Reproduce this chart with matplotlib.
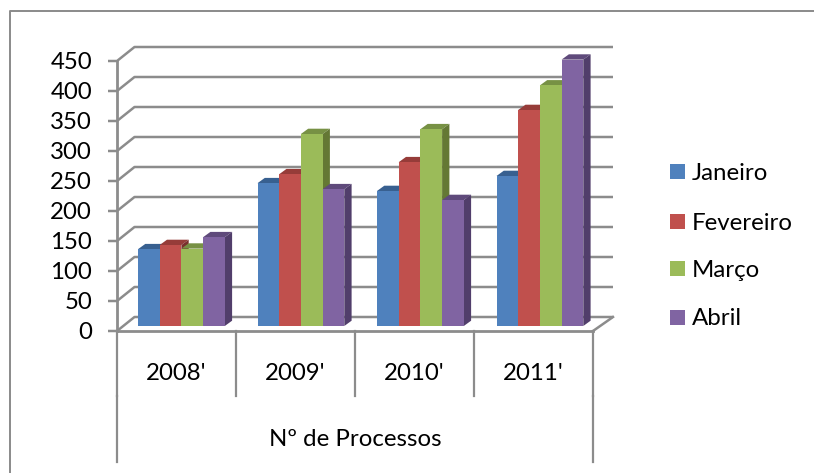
import matplotlib
matplotlib.use("Agg")
import matplotlib.pyplot as plt
from matplotlib.lines import Line2D
from matplotlib.patches import Polygon, Rectangle

plt.rcParams['font.family'] = ['Lato', 'DejaVu Sans']

years = ["2008'", "2009'", "2010'", "2011'"]
meses = ["Janeiro", "Fevereiro", "Março", "Abril"]
janeiro = [128, 238, 225, 250]
fevereiro = [135, 253, 273, 360]
marco = [129, 320, 328, 401]
abril = [148, 228, 210, 444]
series = [janeiro, fevereiro, marco, abril]
ticks = list(range(0, 451, 50))

front = ["#4F81BD", "#C0504D", "#9BBB59", "#8064A2"]
top = ["#386090", "#963C39", "#779144", "#5F4A7B"]
side = ["#2F4F78", "#7A302E", "#647834", "#513E6B"]
grey = "#8C8C8C"
fs = 17.3

W, H = 814, 473
fig = plt.figure(figsize=(W / 100, H / 100), dpi=100)

# outer frame, only left and top are inside the crop
fig.add_artist(Line2D([9.5 / W, 9.5 / W, 1], [0, 1 - 10.7 / H, 1 - 10.7 / H], transform=fig.transFigure,
                      color="#8A8A8A", lw=1.4))

# front wall goes from x=117..593 px, y=331..61 px
ax = fig.add_axes([117 / W, 1 - 331 / H, 476 / W, 270 / H])
ax.set_xlim(0, 4)
ax.set_ylim(0, 450)
ax.axis("off")

xu = 4 / 476.0    # one pixel in x units
yu = 450 / 270.0  # one pixel in y units

# gridlines with the slanted bit on the left wall
ddx, ddy = 17.5 * xu, 14 * yu
for t in ticks:
    ax.plot([-9 * xu, 0, ddx, 4 + 20 * xu], [t, t, t + ddy, t + ddy], color=grey, lw=1.8,
            clip_on=False, solid_capstyle="butt", zorder=1)
    ax.text(-25 * xu, t - 1.5 * yu, str(t), ha="right", va="center", fontsize=fs, color="black")

# floor right edge, left axis, front edge
ax.plot([4, 4 + 20 * xu], [0, ddy], color=grey, lw=1.8, clip_on=False, zorder=1)
ax.plot([0, 0], [0, 450], color=grey, lw=2.0, clip_on=False, zorder=2)
ax.plot([0, 4], [0, 0], color=grey, lw=2.0, clip_on=False, zorder=2)

# bars
bw = 21.7 * xu
base = 5 * yu
bdx, bdy = 7.3 * xu, 5.3 * yu
starts = [(138 - 117) * xu + i * 119.5 * xu for i in range(4)]
for i in range(4):
    for j in range(4):
        x0 = starts[i] + j * bw
        v = series[j][i]
        y1 = v + base
        z = 3 + j
        ax.add_patch(Polygon([(x0, y1), (x0 + bdx, y1 + bdy), (x0 + bw + bdx, y1 + bdy), (x0 + bw, y1)],
                             fc=top[j], ec="none", clip_on=False, zorder=z))
        ax.add_patch(Polygon([(x0 + bw, base), (x0 + bw + bdx, base + bdy), (x0 + bw + bdx, y1 + bdy), (x0 + bw, y1)],
                             fc=side[j], ec="none", clip_on=False, zorder=z))
        ax.bar(x0, v, width=bw, bottom=base, align="edge", color=front[j], ec="none",
               clip_on=False, zorder=z + 0.5)

# category table under the plot
row1 = -65 * yu
row2 = -131 * yu
for i in range(5):
    ax.plot([i, i], [0, row1], color=grey, lw=1.6, clip_on=False)
for i in [0, 4]:
    ax.plot([i, i], [row1, row2], color=grey, lw=1.6, clip_on=False)
for i, y in enumerate(years):
    ax.text(i + 0.5, -42 * yu, y, ha="center", va="center", fontsize=fs)
ax.text(2, -108 * yu, "Nº de Processos", ha="center", va="center", fontsize=fs)

# legend
legend_y = [172, 221.5, 269, 317]
for j, m in enumerate(meses):
    yy = legend_y[j]
    fig.add_artist(Rectangle((670 / W, 1 - (yy + 7.5) / H), 15 / W, 15 / H, transform=fig.transFigure,
                             fc=front[j], ec="none"))
    fig.text(692 / W, 1 - (yy + 1.5) / H, m, ha="left", va="center", fontsize=fs)

fig.savefig("out.png", dpi=100)
